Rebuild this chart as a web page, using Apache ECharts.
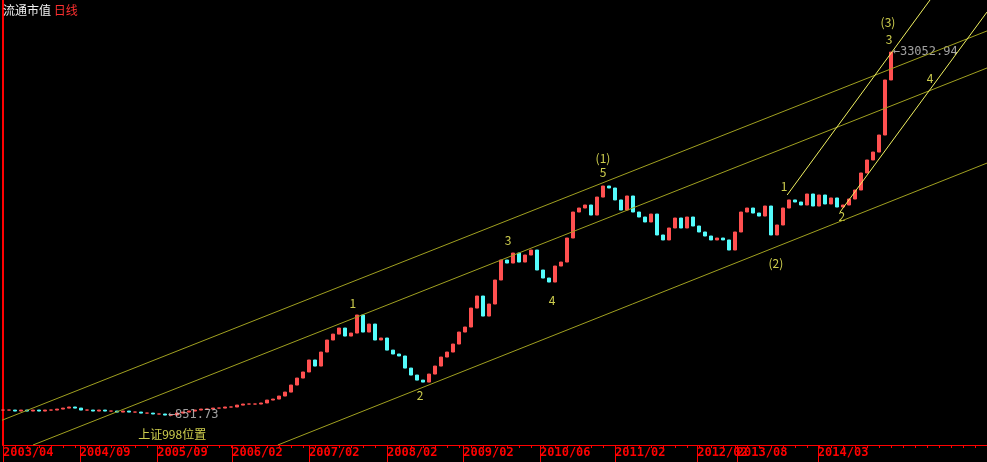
<!DOCTYPE html>
<html>
<head>
<meta charset="utf-8">
<script src="https://cdn.jsdelivr.net/npm/echarts@6/dist/echarts.min.js"></script>
<style>html,body{margin:0;background:#000;}#main{width:987px;height:462px;}</style>
</head>
<body>
<div id="main"></div>
<script>
// closes, one bar per ~ two weeks
var closes = [896,896,887,896,887,896,887,896,896,905,914,924,914,896,896,887,896,887,887,878,
  887,878,878,869,869,861,861,852,852,869,878,887,896,905,905,914,914,924,924,942,
  952,952,952,962,991,1001,1032,1074,1153,1237,1315,1484,1396,1608,1815,1927,2048,1889,1947,2335,
  1967,2132,1815,1852,1640,1576,1545,1368,1275,1212,1188,1288,1396,1529,1608,1743,1967,2069,2505,2828,
  2311,2609,3323,4065,3943,4361,3983,4275,4496,3675,3390,3256,3826,3983,5074,6594,6865,7077,6397,7668,
  8570,8400,7447,6730,7750,6594,6270,5964,6460,5231,4975,5613,6207,5613,6270,5726,5392,5177,4975,5074,
  4975,4496,5392,6594,6865,6527,6333,7005,5231,5785,6865,7447,7295,7077,7907,7005,7828,7150,7597,6935,
  7077,7517,8231,9773,11140,12070,14330,24950,33052.94];
// x tick positions (bar index) and labels
var tickPos = [0, 12.8, 25.7, 38.2, 51, 64, 76.7, 89.5, 102, 115.7, 122.3, 135.8];
var tickLabels = ['2003/04','2004/09','2005/09','2006/02','2007/02','2008/02','2009/02','2010/06','2011/02','2012/02','2013/08','2014/03'];
// trend lines [[x1, v1], [x2, v2]]
var channelLines = [
  [[-0.5, 802], [164, 40900]],
  [[5, 630], [164, 28160]],
  [[45.8, 630], [164, 10800]]
];
var fastLines = [
  [[130.7, 7830], [154.5, 55880]],
  [[139.5, 6590], [164, 49500]]
];
// wave counts [text, x, value]
var waves = [
  ['1', 58.3, 2635], ['2', 69.5, 1042], ['3', 84.2, 4975], ['4', 91.5, 2715],
  ['(1)', 100, 11360], ['5', 100, 9870], ['(2)', 128.8, 3943], ['1', 130.2, 8570],
  ['2', 139.8, 6333], ['(3)', 147.5, 44740], ['3', 147.7, 37710], ['4', 154.5, 25460]
];
// price callouts [text, x, value]
var callouts = [['←33052.94', 148.2, 33052.94], ['←851.73', 27.4, 852]];

var candles = closes.map(function (c, i) {
  var o = i ? closes[i - 1] : c;
  return [i, o, c, Math.min(o, c), Math.max(o, c)];
});

var series = [{
  type: 'candlestick',
  data: candles,
  barWidth: 4,
  itemStyle: { color: '#ff5050', color0: '#54fcfc', borderColor: '#ff5050', borderColor0: '#54fcfc', borderWidth: 1 }
}];
channelLines.forEach(function (l) {
  series.push({ type: 'line', data: l, symbol: 'none', silent: true, clip: true, lineStyle: { color: '#a0a020', width: 1 } });
});
fastLines.forEach(function (l) {
  series.push({ type: 'line', data: l, symbol: 'none', silent: true, clip: true, lineStyle: { color: '#f0f060', width: 1 } });
});
series.push({
  type: 'scatter', symbolSize: 1, silent: true, itemStyle: { color: 'transparent' },
  data: waves.map(function (w) { return { name: w[0], value: [w[1], w[2]] }; }).concat([{ name: '上证998位置', value: [28.2, 704] }]),
  label: { show: true, position: 'inside', formatter: '{b}', color: '#ffff60', fontSize: 12, fontFamily: 'Noto Sans CJK SC' }
});
series.push({
  type: 'scatter', symbolSize: 1, silent: true, itemStyle: { color: 'transparent' },
  data: callouts.map(function (w) { return { name: w[0], value: [w[1], w[2]] }; }),
  label: { show: true, position: 'right', distance: 0, formatter: '{b}', color: '#c8c8c8', fontSize: 12, fontFamily: 'DejaVu Sans Mono' }
});

var myChart = echarts.init(document.getElementById('main'));
myChart.setOption({
  backgroundColor: '#000',
  animation: false,
  title: {
    text: '流通市值 {r|日线}', left: -2, top: -1,
    textStyle: { color: '#f0f0f0', fontSize: 12, fontWeight: 'normal', fontFamily: 'Noto Sans CJK SC', rich: { r: { color: '#ff3030', fontSize: 12 } } }
  },
  grid: { left: 2, right: 0, top: 0, bottom: 17 },
  xAxis: [{
    type: 'value', min: 0, max: 164,
    axisLine: { lineStyle: { color: '#ff0000' } },
    splitLine: { show: false },
    axisTick: { customValues: tickPos, length: 17, lineStyle: { color: '#ff0000' } },
    axisLabel: {
      customValues: tickPos, align: 'left', margin: 2, color: '#ff0000', fontSize: 12, fontWeight: 'bold', fontFamily: 'DejaVu Sans Mono',
      formatter: function (v) { var k = tickPos.indexOf(v); return k < 0 ? '' : tickLabels[k]; }
    }
  }, {
    type: 'value', min: 0, max: 164, position: 'bottom', interval: 2,
    axisLine: { show: false }, splitLine: { show: false }, axisLabel: { show: false },
    axisTick: { length: 3, lineStyle: { color: '#ff0000' } }
  }],
  yAxis: {
    type: 'log', min: 630, max: 55880, logBase: 10,
    axisLine: { show: true, lineStyle: { color: '#ff0000', width: 2 } },
    axisLabel: { show: false }, axisTick: { show: false }, splitLine: { show: false }
  },
  series: series
});
</script>
</body>
</html>
